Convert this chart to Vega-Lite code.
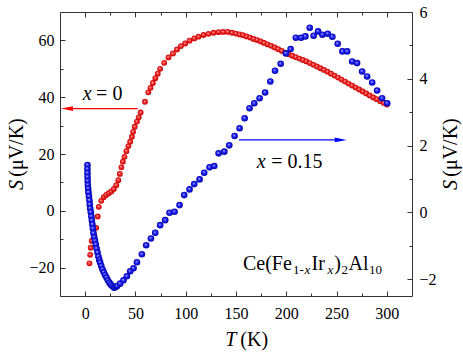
{
  "$schema": "https://vega.github.io/schema/vega-lite/v6.json",
  "width": 352,
  "height": 284,
  "autosize": {"type": "none"},
  "padding": {"left": 60, "top": 12, "right": 51, "bottom": 56},
  "background": "white",
  "config": {
    "view": {"stroke": "#333", "strokeWidth": 1},
    "font": "Liberation Serif, DejaVu Serif, serif",
    "axis": {"grid": false, "domain": false, "title": null, "labelFont": "Liberation Serif, DejaVu Serif, serif", "labelFontSize": 16, "labelColor": "#000", "tickColor": "#333", "tickWidth": 1},
    "text": {"font": "Liberation Serif, DejaVu Serif, serif", "fontSize": 20, "color": "#000", "align": "left", "baseline": "alphabetic"}
  },
  "datasets": {
    "red": [
      {"T": 4.3, "S": -18.5}, {"T": 5.0, "S": -15.5}, {"T": 5.5, "S": -13.0}, {"T": 6.5, "S": -10.6}, {"T": 9.0, "S": -8.6},
      {"T": 11.0, "S": -6.0}, {"T": 12.5, "S": -2.0}, {"T": 13.5, "S": 1.4}, {"T": 16.0, "S": 3.5}, {"T": 18.5, "S": 4.8},
      {"T": 21.0, "S": 5.6}, {"T": 23.5, "S": 6.2}, {"T": 26.0, "S": 6.8}, {"T": 28.5, "S": 7.7}, {"T": 31.0, "S": 9.0},
      {"T": 33.0, "S": 10.8}, {"T": 34.5, "S": 13.0}, {"T": 36.0, "S": 15.3}, {"T": 37.5, "S": 17.3}, {"T": 39.1, "S": 19.0},
      {"T": 41.0, "S": 21.0}, {"T": 43.0, "S": 22.8}, {"T": 44.8, "S": 24.3}, {"T": 46.5, "S": 26.1}, {"T": 47.7, "S": 27.8},
      {"T": 49.3, "S": 29.6}, {"T": 51.5, "S": 31.4}, {"T": 53.3, "S": 32.9}, {"T": 55.2, "S": 34.6}, {"T": 59.5, "S": 38.4},
      {"T": 62.8, "S": 41.7}, {"T": 65.0, "S": 43.3}, {"T": 67.4, "S": 45.0}, {"T": 69.8, "S": 46.7}, {"T": 72.2, "S": 48.3},
      {"T": 74.6, "S": 50.0}, {"T": 78.6, "S": 52.1}, {"T": 82.9, "S": 54.0}, {"T": 87.3, "S": 55.4}, {"T": 91.3, "S": 56.8},
      {"T": 95.2, "S": 58.0}, {"T": 99.5, "S": 58.9}, {"T": 103.8, "S": 59.9}, {"T": 108.5, "S": 60.7}, {"T": 112.7, "S": 61.3},
      {"T": 117.7, "S": 61.9}, {"T": 122.7, "S": 62.3}, {"T": 127.7, "S": 62.7}, {"T": 132.7, "S": 62.9}, {"T": 137.1, "S": 63.0},
      {"T": 141.7, "S": 63.0}, {"T": 146.1, "S": 62.7}, {"T": 150.0, "S": 62.4}, {"T": 153.5, "S": 62.1}, {"T": 157.0, "S": 61.8},
      {"T": 160.5, "S": 61.4}, {"T": 164.0, "S": 61.0}, {"T": 167.5, "S": 60.5}, {"T": 171.0, "S": 60.1}, {"T": 174.5, "S": 59.6},
      {"T": 178.0, "S": 59.1}, {"T": 181.5, "S": 58.6}, {"T": 185.0, "S": 58.1}, {"T": 188.5, "S": 57.5}, {"T": 192.0, "S": 56.9},
      {"T": 195.5, "S": 56.3}, {"T": 199.0, "S": 55.7}, {"T": 202.5, "S": 55.1}, {"T": 206.0, "S": 54.6}, {"T": 209.5, "S": 54.1},
      {"T": 213.0, "S": 53.6}, {"T": 216.5, "S": 53.1}, {"T": 220.0, "S": 52.6}, {"T": 223.5, "S": 52.0}, {"T": 227.0, "S": 51.4},
      {"T": 230.5, "S": 50.8}, {"T": 234.0, "S": 50.2}, {"T": 237.5, "S": 49.6}, {"T": 241.0, "S": 49.0}, {"T": 244.5, "S": 48.3},
      {"T": 248.0, "S": 47.6}, {"T": 251.5, "S": 46.9}, {"T": 255.0, "S": 46.2}, {"T": 258.5, "S": 45.5}, {"T": 262.0, "S": 44.8},
      {"T": 265.5, "S": 44.1}, {"T": 269.0, "S": 43.4}, {"T": 272.5, "S": 42.7}, {"T": 276.0, "S": 42.0}, {"T": 279.5, "S": 41.3},
      {"T": 283.0, "S": 40.6}, {"T": 286.5, "S": 39.9}, {"T": 290.0, "S": 39.3}, {"T": 293.5, "S": 38.6}, {"T": 297.0, "S": 38.0},
      {"T": 300.0, "S": 37.4}
    ],
    "blue": [
      {"T": 2.3, "S": 1.42}, {"T": 2.3, "S": 1.30}, {"T": 2.3, "S": 1.18}, {"T": 2.4, "S": 1.06}, {"T": 2.5, "S": 0.94},
      {"T": 2.7, "S": 0.82}, {"T": 3.0, "S": 0.71}, {"T": 3.3, "S": 0.60}, {"T": 3.8, "S": 0.48}, {"T": 4.3, "S": 0.36},
      {"T": 4.6, "S": 0.24}, {"T": 5.0, "S": 0.12}, {"T": 5.6, "S": 0.01}, {"T": 6.2, "S": -0.12}, {"T": 6.7, "S": -0.24},
      {"T": 7.2, "S": -0.36}, {"T": 7.7, "S": -0.48}, {"T": 8.3, "S": -0.62}, {"T": 9.0, "S": -0.74}, {"T": 9.8, "S": -0.85},
      {"T": 10.6, "S": -0.96}, {"T": 11.4, "S": -1.08}, {"T": 12.3, "S": -1.20}, {"T": 13.2, "S": -1.32}, {"T": 14.1, "S": -1.42},
      {"T": 14.9, "S": -1.50}, {"T": 16.0, "S": -1.60}, {"T": 17.2, "S": -1.70}, {"T": 18.5, "S": -1.79}, {"T": 19.8, "S": -1.87},
      {"T": 21.2, "S": -1.95}, {"T": 22.6, "S": -2.03}, {"T": 24.1, "S": -2.10}, {"T": 25.6, "S": -2.16}, {"T": 27.2, "S": -2.21},
      {"T": 28.9, "S": -2.25}, {"T": 30.3, "S": -2.23}, {"T": 31.8, "S": -2.20}, {"T": 34.8, "S": -2.13}, {"T": 38.1, "S": -2.03},
      {"T": 41.5, "S": -1.91}, {"T": 44.8, "S": -1.76}, {"T": 48.1, "S": -1.67}, {"T": 51.5, "S": -1.49}, {"T": 56.4, "S": -1.25},
      {"T": 60.7, "S": -0.98}, {"T": 65.4, "S": -0.78}, {"T": 69.7, "S": -0.61}, {"T": 74.6, "S": -0.38}, {"T": 79.6, "S": -0.23},
      {"T": 83.9, "S": -0.01}, {"T": 88.9, "S": 0.02}, {"T": 93.9, "S": 0.22}, {"T": 98.5, "S": 0.52}, {"T": 103.8, "S": 0.69},
      {"T": 108.5, "S": 0.85}, {"T": 113.8, "S": 0.99}, {"T": 118.4, "S": 1.19}, {"T": 123.7, "S": 1.35}, {"T": 128.4, "S": 1.39},
      {"T": 132.7, "S": 1.77}, {"T": 138.4, "S": 1.82}, {"T": 143.3, "S": 2.01}, {"T": 148.6, "S": 2.29}, {"T": 153.6, "S": 2.52},
      {"T": 158.6, "S": 2.82}, {"T": 163.5, "S": 3.12}, {"T": 168.2, "S": 3.27}, {"T": 173.5, "S": 3.42}, {"T": 178.9, "S": 3.59},
      {"T": 184.1, "S": 3.92}, {"T": 188.8, "S": 4.24}, {"T": 194.4, "S": 4.45}, {"T": 199.6, "S": 4.76}, {"T": 204.3, "S": 4.89},
      {"T": 209.5, "S": 5.23}, {"T": 214.7, "S": 5.23}, {"T": 219.0, "S": 5.27}, {"T": 223.3, "S": 5.53}, {"T": 227.2, "S": 5.29},
      {"T": 231.6, "S": 5.42}, {"T": 235.9, "S": 5.32}, {"T": 241.2, "S": 5.35}, {"T": 245.8, "S": 5.26}, {"T": 251.1, "S": 5.05},
      {"T": 255.8, "S": 4.82}, {"T": 260.5, "S": 4.82}, {"T": 265.5, "S": 4.52}, {"T": 270.4, "S": 4.47}, {"T": 275.4, "S": 4.22},
      {"T": 280.4, "S": 4.07}, {"T": 285.4, "S": 3.89}, {"T": 290.3, "S": 3.65}, {"T": 295.3, "S": 3.42}, {"T": 300.3, "S": 3.27}
    ],
    "one": [{"k": 1}]
  },
  "resolve": {"scale": {"y": "independent"}, "axis": {"x": "independent", "y": "independent"}},
  "layer": [
    {
      "resolve": {"axis": {"x": "independent", "y": "independent"}},
      "layer": [
        {
          "data": {"name": "red"},
          "mark": {"type": "point", "filled": true, "size": 34, "opacity": 1, "strokeWidth": 0,
            "fill": {"gradient": "radial", "x1": 0.42, "y1": 0.38, "r1": 0, "x2": 0.5, "y2": 0.5, "r2": 0.5,
              "stops": [{"offset": 0, "color": "#ffe6e6"}, {"offset": 0.35, "color": "#ff3a3a"}, {"offset": 1, "color": "#c00000"}]}},
          "encoding": {
            "x": {"field": "T", "type": "quantitative", "scale": {"domain": [-25, 325], "nice": false, "zero": false},
              "axis": {"orient": "bottom", "values": [0, 50, 100, 150, 200, 250, 300], "tickSize": -5, "labelPadding": 14}},
            "y": {"field": "S", "type": "quantitative", "scale": {"domain": [-30, 70], "nice": false, "zero": false},
              "axis": {"orient": "left", "values": [-20, 0, 20, 40, 60], "tickSize": -5, "labelPadding": 11}}
          }
        },
        {
          "data": {"name": "one"},
          "mark": {"type": "rule", "color": "#ff0000", "strokeWidth": 1.3},
          "encoding": {
            "x": {"datum": -18, "type": "quantitative", "axis": {"orient": "bottom", "values": [25, 75, 125, 175, 225, 275], "tickSize": -3, "labels": false}},
            "x2": {"datum": 52.3},
            "y": {"datum": 36, "type": "quantitative", "axis": {"orient": "left", "values": [-10, 10, 30, 50], "tickSize": -3, "labels": false}}
          }
        },
        {
          "data": {"name": "one"},
          "mark": {"type": "point", "filled": true, "opacity": 1, "color": "#ff0000", "size": 144, "shape": "M-1,0L1,-0.4L1,0.4Z"},
          "encoding": {
            "x": {"datum": -18.1, "type": "quantitative", "axis": {"orient": "top", "values": [0, 50, 100, 150, 200, 250, 300], "tickSize": -5, "labels": false}},
            "y": {"datum": 36, "type": "quantitative", "axis": null}
          }
        },
        {
          "data": {"name": "one"},
          "mark": {"type": "text", "fontStyle": "italic", "text": "x"},
          "encoding": {
            "x": {"datum": -2.5, "type": "quantitative", "axis": {"orient": "top", "values": [25, 75, 125, 175, 225, 275], "tickSize": -3, "labels": false}},
            "y": {"datum": 39.0, "type": "quantitative", "axis": null}
          }
        },
        {
          "data": {"name": "one"},
          "mark": {"type": "text", "text": "= 0"},
          "encoding": {"x": {"datum": 10.9, "type": "quantitative", "axis": null}, "y": {"datum": 39.0, "type": "quantitative", "axis": null}}
        },
        {
          "data": {"name": "one"},
          "mark": {"type": "text", "fontStyle": "italic", "text": "x"},
          "encoding": {"x": {"datum": 170.7, "type": "quantitative", "axis": null}, "y": {"datum": 14.9, "type": "quantitative", "axis": null}}
        },
        {
          "data": {"name": "one"},
          "mark": {"type": "text", "text": "= 0.15"},
          "encoding": {"x": {"datum": 185.1, "type": "quantitative", "axis": null}, "y": {"datum": 14.9, "type": "quantitative", "axis": null}}
        },
        {
          "data": {"name": "one"},
          "mark": {"type": "text", "text": "Ce(Fe"},
          "encoding": {"x": {"datum": 156.9, "type": "quantitative", "axis": null}, "y": {"datum": -20.9, "type": "quantitative", "axis": null}}
        },
        {
          "data": {"name": "one"},
          "mark": {"type": "text", "text": "1-", "fontSize": 13},
          "encoding": {"x": {"datum": 206.7, "type": "quantitative", "axis": null}, "y": {"datum": -22.4, "type": "quantitative", "axis": null}}
        },
        {
          "data": {"name": "one"},
          "mark": {"type": "text", "text": "x", "fontSize": 13, "fontStyle": "italic"},
          "encoding": {"x": {"datum": 218.1, "type": "quantitative", "axis": null}, "y": {"datum": -22.4, "type": "quantitative", "axis": null}}
        },
        {
          "data": {"name": "one"},
          "mark": {"type": "text", "text": "Ir"},
          "encoding": {"x": {"datum": 225.1, "type": "quantitative", "axis": null}, "y": {"datum": -20.9, "type": "quantitative", "axis": null}}
        },
        {
          "data": {"name": "one"},
          "mark": {"type": "text", "text": "x", "fontSize": 13, "fontStyle": "italic"},
          "encoding": {"x": {"datum": 241.0, "type": "quantitative", "axis": null}, "y": {"datum": -22.4, "type": "quantitative", "axis": null}}
        },
        {
          "data": {"name": "one"},
          "mark": {"type": "text", "text": ")"},
          "encoding": {"x": {"datum": 247.8, "type": "quantitative", "axis": null}, "y": {"datum": -20.9, "type": "quantitative", "axis": null}}
        },
        {
          "data": {"name": "one"},
          "mark": {"type": "text", "text": "2", "fontSize": 13},
          "encoding": {"x": {"datum": 254.9, "type": "quantitative", "axis": null}, "y": {"datum": -22.4, "type": "quantitative", "axis": null}}
        },
        {
          "data": {"name": "one"},
          "mark": {"type": "text", "text": "Al"},
          "encoding": {"x": {"datum": 261.9, "type": "quantitative", "axis": null}, "y": {"datum": -20.9, "type": "quantitative", "axis": null}}
        },
        {
          "data": {"name": "one"},
          "mark": {"type": "text", "text": "10", "fontSize": 13},
          "encoding": {"x": {"datum": 282.3, "type": "quantitative", "axis": null}, "y": {"datum": -22.4, "type": "quantitative", "axis": null}}
        },
        {
          "data": {"name": "one"},
          "mark": {"type": "text", "text": "S", "fontStyle": "italic", "angle": 270},
          "encoding": {"x": {"datum": -61.4, "type": "quantitative", "axis": null}, "y": {"datum": 7.3, "type": "quantitative", "axis": null}}
        },
        {
          "data": {"name": "one"},
          "mark": {"type": "text", "text": "(μV/K)", "angle": 270},
          "encoding": {"x": {"datum": -61.4, "type": "quantitative", "axis": null}, "y": {"datum": 12.0, "type": "quantitative", "axis": null}}
        },
        {
          "data": {"name": "one"},
          "mark": {"type": "text", "text": "S", "fontStyle": "italic", "angle": 270},
          "encoding": {"x": {"datum": 369.5, "type": "quantitative", "axis": null}, "y": {"datum": 7.3, "type": "quantitative", "axis": null}}
        },
        {
          "data": {"name": "one"},
          "mark": {"type": "text", "text": "(μV/K)", "angle": 270},
          "encoding": {"x": {"datum": 369.5, "type": "quantitative", "axis": null}, "y": {"datum": 12.0, "type": "quantitative", "axis": null}}
        },
        {
          "data": {"name": "one"},
          "mark": {"type": "text", "text": "T", "fontStyle": "italic"},
          "encoding": {"x": {"datum": 139.3, "type": "quantitative", "axis": null}, "y": {"datum": -47.6, "type": "quantitative", "axis": null}}
        },
        {
          "data": {"name": "one"},
          "mark": {"type": "text", "text": "(K)"},
          "encoding": {"x": {"datum": 154.3, "type": "quantitative", "axis": null}, "y": {"datum": -47.6, "type": "quantitative", "axis": null}}
        }
      ]
    },
    {
      "resolve": {"axis": {"y": "independent"}},
      "layer": [
        {
          "data": {"name": "one"},
          "mark": {"type": "rule", "color": "#0000ff", "strokeWidth": 1.3},
          "encoding": {
            "x": {"datum": 153.0, "type": "quantitative", "axis": null},
            "x2": {"datum": 254.1},
            "y": {"datum": 2.17, "type": "quantitative", "scale": {"domain": [-2.5, 6], "nice": false, "zero": false},
              "axis": {"orient": "right", "values": [-1, 1, 3, 5], "tickSize": -3, "labels": false}}
          }
        },
        {
          "data": {"name": "one"},
          "mark": {"type": "point", "filled": true, "opacity": 1, "color": "#0000ff", "size": 144, "shape": "M1,0L-1,-0.4L-1,0.4Z"},
          "encoding": {
            "x": {"datum": 254.1, "type": "quantitative", "axis": null},
            "y": {"datum": 2.17, "type": "quantitative", "axis": null}
          }
        },
        {
          "data": {"name": "blue"},
          "mark": {"type": "point", "filled": true, "size": 44, "opacity": 1, "strokeWidth": 0,
            "fill": {"gradient": "radial", "x1": 0.42, "y1": 0.38, "r1": 0, "x2": 0.5, "y2": 0.5, "r2": 0.5,
              "stops": [{"offset": 0, "color": "#e6ecff"}, {"offset": 0.35, "color": "#2a2aff"}, {"offset": 1, "color": "#0000a8"}]}},
          "encoding": {
            "x": {"field": "T", "type": "quantitative", "axis": null},
            "y": {"field": "S", "type": "quantitative", "scale": {"domain": [-2.5, 6], "nice": false, "zero": false},
              "axis": {"orient": "right", "values": [-2, 0, 2, 4, 6], "tickSize": -5, "labelPadding": 12}}
          }
        }
      ]
    }
  ]
}
